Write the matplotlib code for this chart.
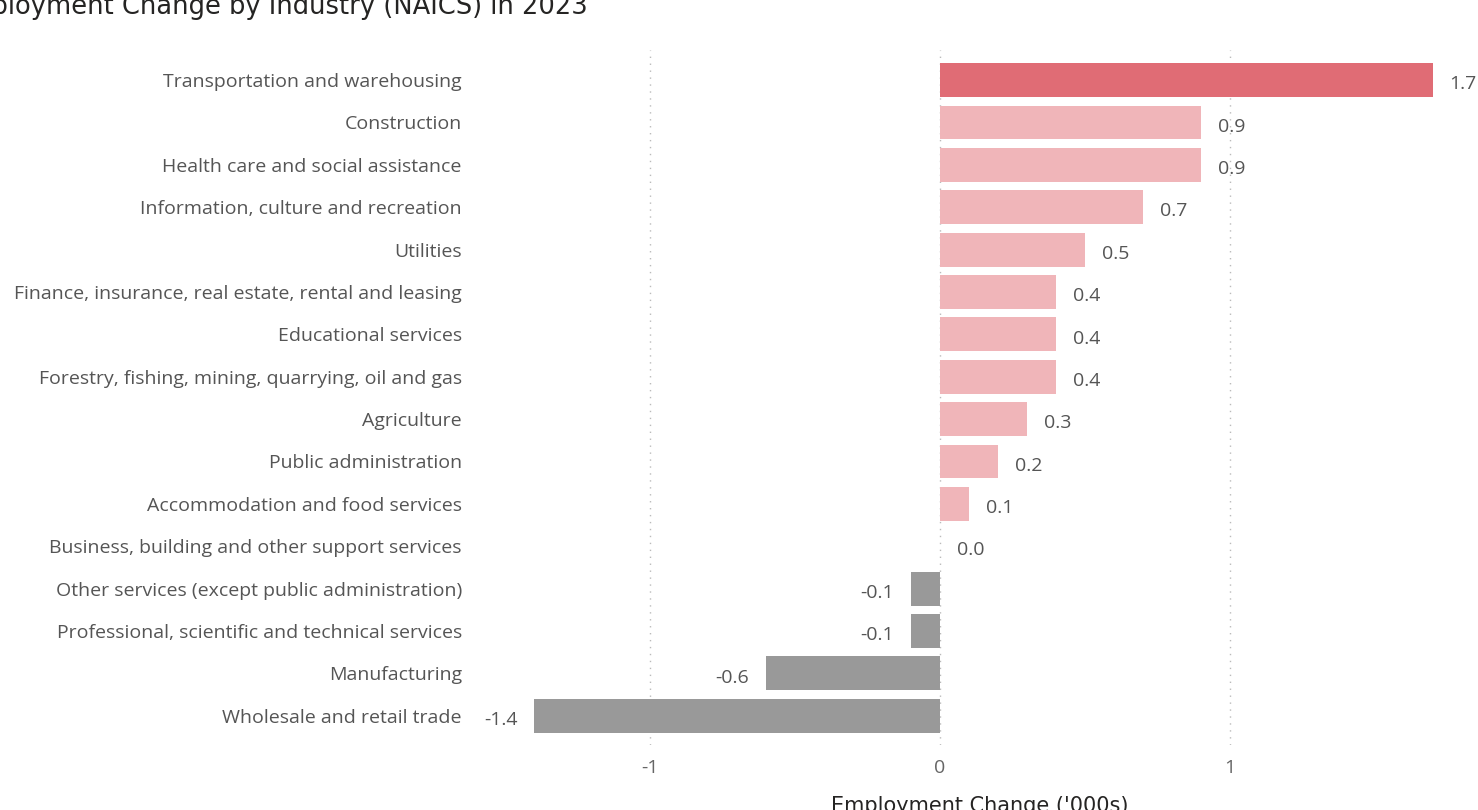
import matplotlib
matplotlib.use("Agg")
import matplotlib.pyplot as plt

categories = [
    "Transportation and warehousing",
    "Construction",
    "Health care and social assistance",
    "Information, culture and recreation",
    "Utilities",
    "Finance, insurance, real estate, rental and leasing",
    "Educational services",
    "Forestry, fishing, mining, quarrying, oil and gas",
    "Agriculture",
    "Public administration",
    "Accommodation and food services",
    "Business, building and other support services",
    "Other services (except public administration)",
    "Professional, scientific and technical services",
    "Manufacturing",
    "Wholesale and retail trade",
]
values = [1.7, 0.9, 0.9, 0.7, 0.5, 0.4, 0.4, 0.4, 0.3, 0.2, 0.1, 0.0, -0.1, -0.1, -0.6, -1.4]
xticks = [-1, 0, 1]
title = "Employment Change by Industry (NAICS) in 2023"
xlabel = "Employment Change ('000s)"

HIGHLIGHT = "#E06C75"
POS = "#F0B5B9"
NEG = "#999999"

W, H = 1478, 810
fig = plt.figure(figsize=(W / 100, H / 100), dpi=100)

# axes in pixel coordinates
px_left, px_right, px_top, px_bottom = 475, 1440, 50, 745
ax = fig.add_axes([px_left / W, 1 - px_bottom / H, (px_right - px_left) / W, (px_bottom - px_top) / H])
ppu = 290.0
x0 = 940.0
ax.set_xlim((px_left - x0) / ppu, (px_right - x0) / ppu)
ax.set_ylim(len(categories) - 1 + 0.69, -0.71)

colors = []
for i, v in enumerate(values):
    if i == 0:
        colors.append(HIGHLIGHT)
    elif v >= 0:
        colors.append(POS)
    else:
        colors.append(NEG)

ypos = list(range(len(categories)))
ax.barh(ypos, values, height=0.8, color=colors, zorder=2)

font = "Open Sans"
label_color = "#555555"
fs = 14
for y, v in zip(ypos, values):
    txt = f"{v:.1f}"
    if v >= 0:
        ax.annotate(txt, (v, y), xytext=(12, -3), textcoords="offset points",
                    ha="left", va="center", fontsize=fs, color=label_color, family=font)
    else:
        ax.annotate(txt, (v, y), xytext=(-12, -3), textcoords="offset points",
                    ha="right", va="center", fontsize=fs, color=label_color, family=font)

ax.set_yticks(ypos)
ax.set_yticklabels(categories, fontsize=fs, color="#555555", family=font)
ax.set_xticks(xticks)
ax.set_xticklabels([str(t) for t in xticks], fontsize=fs, color="#666666", family=font)
ax.tick_params(axis="both", length=0)
ax.tick_params(axis="y", pad=9.5)
ax.tick_params(axis="x", pad=10)
for s in ax.spines.values():
    s.set_visible(False)
ax.grid(axis="x", linestyle=(0, (1, 4)), color="#BBBBBB", linewidth=1, zorder=0)
ax.set_axisbelow(True)

fig.text(588 / W, 1 - 7 / H, title, ha="right", va="center", fontsize=18.5,
         color="#252423", family="DejaVu Sans")
fig.text(980 / W, 1 - 806 / H, xlabel, ha="center", va="center", fontsize=15,
         color="#252423", family="DejaVu Sans")

fig.savefig("out.png", dpi=100)
